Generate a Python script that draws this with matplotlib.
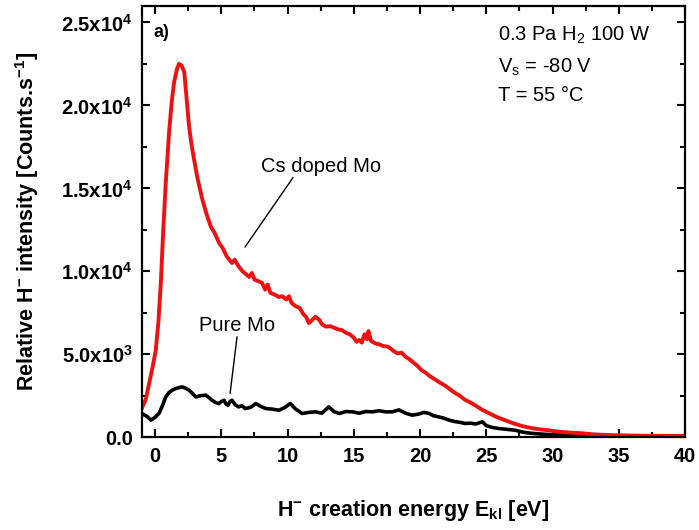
import matplotlib
matplotlib.use("Agg")
import matplotlib.pyplot as plt
from matplotlib.ticker import MultipleLocator, FuncFormatter

plt.rcParams['font.family'] = ['Liberation Sans', 'DejaVu Sans']
plt.rcParams['mathtext.fontset'] = 'custom'
plt.rcParams['mathtext.rm'] = 'Liberation Sans'
plt.rcParams['mathtext.bf'] = 'Liberation Sans:bold'
plt.rcParams['mathtext.it'] = 'Liberation Sans:italic'

# Cs doped Mo (red)
cs_E = [-1.0, -0.7, -0.45, -0.2, 0.05, 0.25, 0.43, 0.6, 0.8, 1.05, 1.25, 1.43, 1.65, 1.8, 2.0, 2.2, 2.4,
        2.56, 2.75, 2.94, 3.2, 3.57, 3.9, 4.2, 4.5, 4.83, 5.1, 5.4, 5.6, 5.8, 6.0, 6.3, 6.6, 6.9, 7.1, 7.3,
        7.5, 7.8, 8.07, 8.3, 8.5, 8.7, 9.0, 9.35, 9.6, 9.9, 10.1, 10.3, 10.6, 10.9, 11.2, 11.4, 11.6, 11.9,
        12.1, 12.4, 12.6, 12.9, 13.2, 13.5, 13.8, 14.1, 14.4, 14.7, 15.0, 15.2, 15.4, 15.6, 15.8, 16.0,
        16.1, 16.3, 16.6, 16.9, 17.2, 17.6, 18.0, 18.3, 18.6, 18.9, 19.2, 19.5, 19.8, 20.1, 20.4, 20.7,
        21.0, 21.4, 21.7, 22.0, 22.4, 22.7, 23.0, 23.4, 23.9, 24.3, 24.7, 25.2, 25.7, 26.0, 26.4, 27.0,
        27.5, 28.0, 28.5, 29.0, 29.7, 30.5, 31.3, 32.2, 33.0, 34.0, 34.8, 36.0, 37.0, 38.0, 39.0, 40.0]
cs_I = [1750, 2300, 3260, 4200, 5250, 7000, 9300, 12300, 15300, 18360, 20200, 21400, 22200, 22500, 22400,
        22000, 20200, 18740, 17600, 16730, 15600, 14310, 13400, 12700, 12300, 11700, 11400, 10900, 10700,
        10500, 10700, 10300, 10000, 9800, 9660, 9900, 9500, 9400, 9300, 8900, 9200, 8700, 8600, 8450, 8500,
        8300, 8500, 8090, 7900, 7800, 7400, 7250, 6880, 7100, 7260, 7070, 6800, 6660, 6700, 6600, 6500,
        6460, 6300, 6200, 6000, 5750, 5860, 5700, 6200, 5900, 6400, 5800, 5660, 5600, 5500, 5450, 5200,
        5050, 5100, 4850, 4700, 4500, 4300, 4050, 3900, 3700, 3550, 3340, 3200, 3050, 2800, 2640, 2500,
        2250, 2050, 1850, 1650, 1450, 1250, 1150, 1030, 850, 720, 620, 540, 480, 420, 330, 280, 240, 180,
        140, 120, 100, 90, 85, 80, 80]

# Pure Mo (black)
mo_E = [-1.0, -0.6, -0.32, 0.0, 0.3, 0.55, 0.8, 1.05, 1.3, 1.6, 2.04, 2.3, 2.56, 2.8, 3.07, 3.4, 3.82,
        4.05, 4.3, 4.55, 4.8, 5.0, 5.2, 5.35, 5.5, 5.65, 5.8, 6.05, 6.3, 6.55, 6.8, 7.2, 7.6, 8.0, 8.35,
        8.8, 9.35, 9.8, 10.2, 10.6, 11.1, 11.6, 12.1, 12.6, 13.1, 13.5, 13.9, 14.4, 14.9, 15.4, 15.9,
        16.4, 16.9, 17.4, 17.9, 18.4, 18.9, 19.4, 19.9, 20.3, 20.7, 21.0, 21.4, 21.8, 22.2, 22.6, 23.0,
        23.4, 23.8, 24.2, 24.7, 25.0, 25.4, 25.9, 26.5, 27.2, 27.8, 28.4, 29.0, 30.0, 31.0, 32.0, 33.0,
        34.0, 35.0, 36.0, 38.0, 40.0]
mo_I = [1430, 1250, 1030, 1200, 1450, 1900, 2430, 2700, 2840, 2950, 3040, 2950, 2840, 2650, 2430, 2500,
        2540, 2400, 2230, 2100, 2030, 2150, 2230, 2000, 1930, 2150, 2230, 1950, 1830, 1900, 1730, 1800,
        2030, 1850, 1730, 1700, 1630, 1800, 2030, 1700, 1430, 1500, 1530, 1450, 1830, 1550, 1430, 1550,
        1530, 1450, 1550, 1530, 1600, 1530, 1530, 1650, 1450, 1330, 1400, 1500, 1430, 1300, 1230, 1150,
        1030, 950, 900, 830, 850, 800, 930, 700, 600, 530, 480, 420, 300, 240, 200, 150, 120, 100, 80,
        70, 60, 55, 50, 50]

fig = plt.figure(figsize=(6.99, 5.30), dpi=100)
ax = fig.add_axes([0.203, 0.175, 0.777, 0.814])

ax.plot(mo_E, mo_I, color='black', lw=2.6, solid_joinstyle='round')
ax.plot(cs_E, cs_I, color='#ee1111', lw=2.8, solid_joinstyle='round')

ax.set_xlim(-1, 40)
ax.set_ylim(0, 26000)
ax.xaxis.set_major_locator(MultipleLocator(5))
ax.xaxis.set_minor_locator(MultipleLocator(2.5))
ax.yaxis.set_major_locator(MultipleLocator(5000))
ax.yaxis.set_minor_locator(MultipleLocator(2500))

def yfmt(v, pos):
    if v == 0:
        return '0.0'
    exp = 0
    m = v
    while m >= 10:
        m /= 10.0
        exp += 1
    return r'%.1fx10$^{\mathbf{%d}}$' % (m, exp)

ax.yaxis.set_major_formatter(FuncFormatter(yfmt))
ax.tick_params(which='both', direction='in', top=True, right=True, width=1.5)
ax.tick_params(which='major', length=6, labelsize=14.5)
ax.tick_params(axis='x', which='major', pad=7)
ax.tick_params(axis='y', which='major', pad=6.5)
ax.tick_params(which='minor', length=3.5)
for lab in ax.get_xticklabels() + ax.get_yticklabels():
    lab.set_fontweight('bold')
for s in ax.spines.values():
    s.set_linewidth(1.6)

ax.set_ylabel(r'Relative H$^{\mathbf{-}}$ intensity [Counts.s$^{\mathbf{-1}}$]', fontsize=15.5,
              fontweight='bold', va='center')
ax.yaxis.set_label_coords(-0.212, 0.5)
ax.set_xlabel(r'H$^{\mathbf{-}}$ creation energy E$_{\mathbf{kl}}$ [eV]', fontsize=15.5,
              fontweight='bold', va='center')
ax.xaxis.set_label_coords(0.5, -0.170)

ax.text(-0.1, 24400, 'a)', fontsize=13, fontweight='bold', va='center', ha='left')
ax.text(25.9, 24250, r'0.3 Pa H$_\mathrm{2}$ 100 W', fontsize=14.5, va='center', ha='left')
ax.text(25.9, 22300, r'V$_\mathrm{s}$ = -80 V', fontsize=14.5, va='center', ha='left')
ax.text(25.9, 20600, 'T = 55 °C', fontsize=14.5, va='center', ha='left')

ax.text(12.5, 16300, 'Cs doped Mo', fontsize=14.5, va='center', ha='center')
ax.plot([10.4, 6.79], [15640, 11470], color='black', lw=1.0)
ax.text(6.18, 6760, 'Pure Mo', fontsize=14.5, va='center', ha='center')
ax.plot([6.18, 5.66], [6040, 2660], color='black', lw=1.0)

fig.savefig('out.png', dpi=100)
